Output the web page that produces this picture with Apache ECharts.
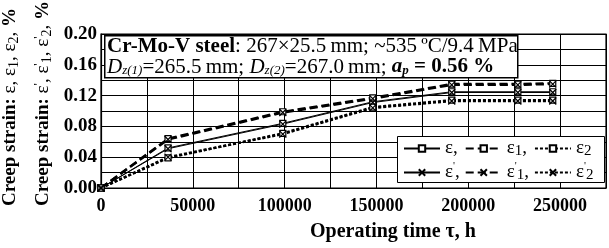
<!DOCTYPE html>
<html>
<head>
<meta charset="utf-8">
<script src="https://cdn.jsdelivr.net/npm/echarts@6/dist/echarts.min.js"></script>
<style>
  html, body {margin:0;padding:0;background:#fff;}
  #chart {width:609px;height:248px;}
</style>
</head>
<body>
<div id="chart"></div>
<script>
// operating time, h
var hours = [0, 36500, 99000, 148000, 191000, 227000, 246000];
// creep strain, % (square markers)
var eps   = [0, 0.052, 0.084, 0.112, 0.125, 0.125, 0.125];
var eps1  = [0, 0.064, 0.099, 0.117, 0.135, 0.135, 0.136];
var eps2  = [0, 0.039, 0.071, 0.105, 0.114, 0.114, 0.114];
// creep strain, % (cross markers)
var epsP  = [0, 0.051, 0.083, 0.111, 0.124, 0.124, 0.124];
var eps1P = [0, 0.063, 0.098, 0.116, 0.134, 0.134, 0.135];
var eps2P = [0, 0.040, 0.070, 0.104, 0.113, 0.113, 0.113];

var xTicks = [0, 50000, 100000, 150000, 200000, 250000];
var yTicks = [0, 0.04, 0.08, 0.12, 0.16, 0.20];

var FONT = 'Liberation Serif';
var crossPath = 'path://M0,0L10,10M10,0L0,10';

function pairs(ys) {
    return hours.map(function (h, i) { return [h, ys[i]]; });
}

var chart = echarts.init(document.getElementById('chart'));

function mk(name, ys, kind, marker) {
    var ls = {color: '#000', width: 1, type: 'solid'};
    if (kind === 'dash') { ls.width = 2.4; ls.type = [8, 4]; }
    if (kind === 'dot') { ls.width = 2.4; ls.type = [3, 2]; }
    return {
        name: name,
        type: 'line',
        data: pairs(ys),
        symbol: marker === 'sq' ? 'rect' : crossPath,
        symbolSize: marker === 'sq' ? 6 : 7,
        showAllSymbol: true,
        itemStyle: {color: marker === 'sq' ? '#fff' : '#000', borderColor: '#000', borderWidth: 1.2},
        lineStyle: ls,
        animation: false
    };
}

var legendText = {
    'e':   '{g|ε}{g|,}',
    'e1':  '{g|ε}{s|1}{g|,}',
    'e2':  '{g|ε}{s|2}',
    'ep':  '{g|ε}{p|\'}{g|,}',
    'ep1': '{g|ε}{p|\'}{s|1}{g|,}',
    'ep2': '{g|ε}{p|\'}{s|2}'
};

var legendRich = {
    g: {fontFamily: FONT, fontSize: 19, color: '#000', lineHeight: 20},
    s: {fontFamily: FONT, fontSize: 15, color: '#000', padding: [6, 0, 0, 0]},
    p: {fontFamily: FONT, fontSize: 11, color: '#000', padding: [0, 0, 12, 0]}
};

function legendOf(names, top, gap) {
    return {
        left: 403, top: top, padding: 0, itemGap: gap, itemWidth: 36, itemHeight: 8,
        data: names,
        formatter: function (n) { return legendText[n]; },
        textStyle: {color: '#000', fontFamily: FONT, fontSize: 19, rich: legendRich}
    };
}

var option = {
    backgroundColor: '#fff',
    grid: {left: 101, right: -4, top: 34, height: 154, show: true, borderColor: '#000', borderWidth: 1.2},
    xAxis: {
        type: 'value', min: 0, max: 275000, interval: 25000,
        axisLine: {lineStyle: {color: '#000', width: 1.2}},
        axisTick: {show: false},
        splitLine: {lineStyle: {color: '#000', width: 1}},
        axisLabel: {
            color: '#000', fontFamily: FONT, fontWeight: 'bold', fontSize: 18, margin: 9,
            formatter: function (v) { return xTicks.indexOf(v) >= 0 ? String(v) : ''; }
        }
    },
    yAxis: {
        type: 'value', min: 0, max: 0.2, interval: 0.02,
        axisLine: {lineStyle: {color: '#000', width: 1.2}},
        axisTick: {show: false},
        splitLine: {lineStyle: {color: '#000', width: 1}},
        axisLabel: {
            color: '#000', fontFamily: FONT, fontWeight: 'bold', fontSize: 19, margin: 4,
            formatter: function (v) {
                var r = Math.round(v * 100) / 100;
                return yTicks.some(function (t) { return Math.abs(t - r) < 1e-9; }) ? r.toFixed(2) : '';
            }
        }
    },
    legend: [
        legendOf(['e', 'e1', 'e2'], 139, 7),
        legendOf(['ep', 'ep1', 'ep2'], 161, 5)
    ],
    graphic: [
        {
            type: 'rect', left: 397, top: 136, z: 3,
            shape: {width: 207, height: 46},
            style: {fill: '#fff', stroke: '#000', lineWidth: 1}
        },
        {
            type: 'rect', left: 104, top: 35, z: 100,
            shape: {width: 413, height: 42},
            style: {fill: '#fff', stroke: '#000', lineWidth: 1.5}
        },
        {
            type: 'text', left: 107, top: 36, z: 101,
            style: {
                text: '{b|Cr-Mo-V steel}{n|: 267×25.5\u2009mm; ~535\u2009ºC/9.4\u2009MPa}\n' +
                      '{i|D}{s|z(1)}{n|=265.5\u2009mm; }{i|D}{s|z(2)}{n|=267.0\u2009mm; }{bi|a}{bs|p}{b| = 0.56 %}',
                fill: '#000',
                rich: {
                    b: {fontFamily: FONT, fontWeight: 'bold', fontSize: 21, lineHeight: 20},
                    n: {fontFamily: FONT, fontSize: 21, lineHeight: 20},
                    i: {fontFamily: FONT, fontStyle: 'italic', fontSize: 21, lineHeight: 20},
                    s: {fontFamily: FONT, fontStyle: 'italic', fontSize: 13, padding: [8, 0, 0, 0]},
                    bi: {fontFamily: FONT, fontStyle: 'italic', fontWeight: 'bold', fontSize: 21},
                    bs: {fontFamily: FONT, fontStyle: 'italic', fontWeight: 'bold', fontSize: 13, padding: [8, 0, 0, 0]}
                }
            }
        },
        {
            type: 'text', x: 393, y: 232, z: 5,
            style: {
                text: 'Operating time τ, h', fill: '#000',
                font: 'bold 20px "Liberation Serif"', align: 'center', verticalAlign: 'middle'
            }
        },
        {
            type: 'text', x: 0, y: 206, rotation: Math.PI / 2,
            style: {
                text: '{b|Creep strain: }{g|ε, ε}{s|1}{g|, ε}{s|2}{g|, }{b|%}',
                fill: '#000',
                rich: {
                    b: {fontFamily: FONT, fontWeight: 'bold', fontSize: 19},
                    g: {fontFamily: FONT, fontSize: 19},
                    s: {fontFamily: FONT, fontSize: 14, padding: [7, 0, 0, 0]}
                }
            }
        },
        {
            type: 'text', x: 32, y: 206, rotation: Math.PI / 2,
            style: {
                text: '{b|Creep strain: }{g|ε}{p|\'}{g|, ε}{p|\'}{s|1}{g|, ε}{p|\'}{s|2}{g|, }{b|%}',
                fill: '#000',
                rich: {
                    b: {fontFamily: FONT, fontWeight: 'bold', fontSize: 19},
                    g: {fontFamily: FONT, fontSize: 19},
                    s: {fontFamily: FONT, fontSize: 14, padding: [7, 0, 0, 0]},
                    p: {fontFamily: FONT, fontSize: 13, padding: [0, 0, 10, 0]}
                }
            }
        }
    ],
    series: [
        mk('e', eps, 'solid', 'sq'),
        mk('e1', eps1, 'dash', 'sq'),
        mk('e2', eps2, 'dot', 'sq'),
        mk('ep', epsP, 'solid', 'x'),
        mk('ep1', eps1P, 'dash', 'x'),
        mk('ep2', eps2P, 'dot', 'x')
    ]
};

chart.setOption(option);
</script>
</body>
</html>
